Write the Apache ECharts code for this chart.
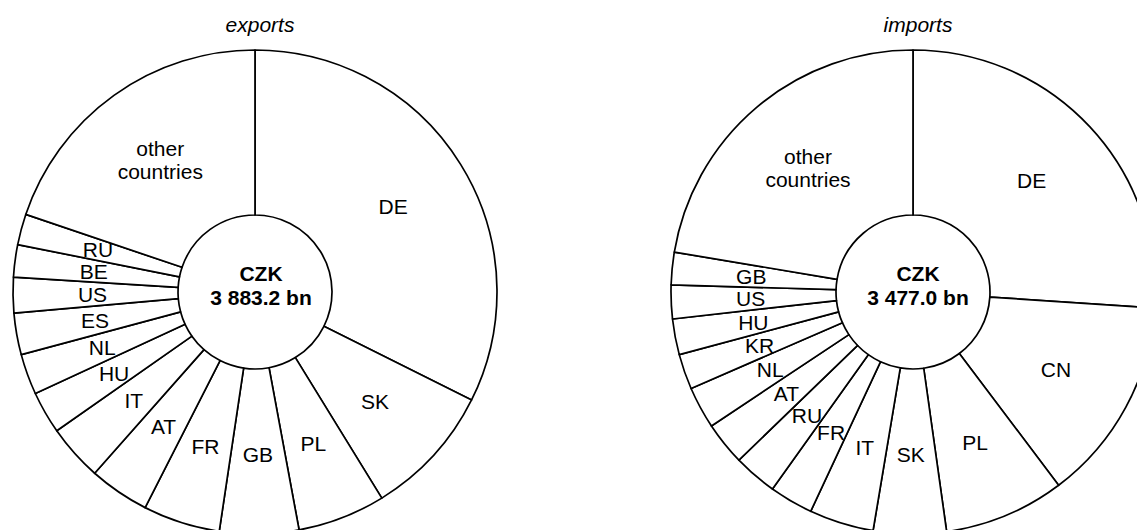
<!DOCTYPE html>
<html>
<head>
<meta charset="utf-8">
<script src="https://cdn.jsdelivr.net/npm/echarts@6/dist/echarts.min.js"></script>
<style>
html,body{margin:0;padding:0;background:#fff;}
#chart{width:1137px;height:530px;}
</style>
</head>
<body>
<div id="chart"></div>
<script>
// Categories (clockwise from the top) and values in CZK bn
const exportCountries = ['DE','SK','PL','GB','FR','AT','IT','HU','NL','ES','US','BE','RU','other countries'];
const exportValues    = [1256.6, 344.1, 227.6, 204.9, 199.6, 156.4, 145.6, 110.0, 105.7, 107.9, 91.7, 84.1, 79.8, 769.1];
const importCountries = ['DE','CN','PL','SK','IT','FR','RU','AT','NL','KR','HU','US','GB','other countries'];
const importValues    = [905.9, 475.2, 280.1, 169.0, 149.7, 101.4, 101.4, 100.4, 97.5, 82.1, 83.1, 78.2, 75.3, 777.5];
const titles = ['exports', 'imports'];
const totals = ['CZK\n3 883.2 bn', 'CZK\n3 477.0 bn'];

const FONT = '"Liberation Sans", Arial, sans-serif';

function toData(names, vals) {
  return names.map((n, i) => ({ name: n, value: vals[i] }));
}

function pieSeries(names, vals, cx) {
  return {
    type: 'pie',
    center: [cx, 292],
    radius: [77, 242],
    startAngle: 90,
    clockwise: true,
    animation: false,
    silent: true,
    avoidLabelOverlap: false,
    minShowLabelAngle: 0,
    labelLayout: { hideOverlap: false },
    itemStyle: { color: '#ffffff', borderColor: '#000000', borderWidth: 1.7 },
    label: {
      show: true,
      position: 'inside',
      rotate: 0,
      color: '#000',
      fontFamily: FONT,
      fontSize: 21,
      lineHeight: 23,
      formatter: p => p.name.replace(' ', '\n')
    },
    labelLine: { show: false },
    emphasis: { disabled: true },
    data: toData(names, vals)
  };
}

const chart = echarts.init(document.getElementById('chart'), null, { renderer: 'svg' });
chart.setOption({
  backgroundColor: '#ffffff',
  title: [
    { text: titles[0], left: 255, top: 9, textAlign: 'center',
      textStyle: { fontFamily: FONT, fontStyle: 'italic', fontWeight: 'normal', fontSize: 21, color: '#000' } },
    { text: titles[1], left: 913, top: 9, textAlign: 'center',
      textStyle: { fontFamily: FONT, fontStyle: 'italic', fontWeight: 'normal', fontSize: 21, color: '#000' } },
    { text: totals[0], left: 256, top: 256, textAlign: 'center',
      textStyle: { fontFamily: FONT, fontWeight: 'bold', fontSize: 21, lineHeight: 24, color: '#000' } },
    { text: totals[1], left: 913, top: 256, textAlign: 'center',
      textStyle: { fontFamily: FONT, fontWeight: 'bold', fontSize: 21, lineHeight: 24, color: '#000' } }
  ],
  series: [
    pieSeries(exportCountries, exportValues, 255),
    pieSeries(importCountries, importValues, 913)
  ]
});
</script>
</body>
</html>
